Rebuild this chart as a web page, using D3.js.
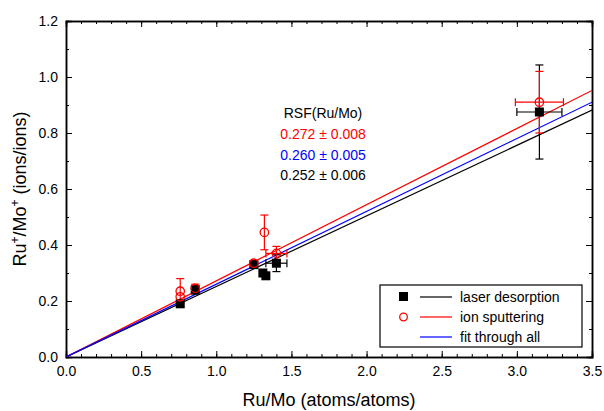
<!DOCTYPE html>
<html>
<head>
<meta charset="utf-8">
<script src="https://cdn.jsdelivr.net/npm/d3@7"></script>
<style>
  body { margin: 0; background: #fff; }
  svg text { font-family: "Liberation Sans", Arial, sans-serif; }
</style>
</head>
<body>
<div id="chart"></div>
<script>
// Laser desorption points: Ru/Mo ratio vs ion ratio, with errors
const laserX  = [0.76, 0.86, 1.25, 1.31, 1.33, 1.40, 3.15];
const laserY  = [0.19, 0.24, 0.33, 0.30, 0.29, 0.335, 0.875];
const laserEx = [0.01, 0.01, 0.01, 0, 0, 0.07, 0.15];
const laserEy = [0.01, 0.015, 0.01, 0, 0, 0.03, 0.168];

// Ion sputtering points
const ionX  = [0.76, 0.76, 0.86, 1.25, 1.32, 1.40, 3.15];
const ionY  = [0.235, 0.215, 0.245, 0.335, 0.445, 0.37, 0.91];
const ionEx = [0, 0, 0.01, 0.01, 0, 0.07, 0.16];
const ionEy = [0.045, 0, 0.015, 0.01, 0.062, 0.025, 0.11];

// Fit slopes (RSF) through origin
const fitNames  = ['laser desorption', 'ion sputtering', 'fit through all'];
const fitSlopes = [0.252, 0.272, 0.260];
const fitErrs   = [0.006, 0.008, 0.005];
const fitColors = ['#000000', '#ff0000', '#0000ff'];

const xTicks = [0, 0.5, 1.0, 1.5, 2.0, 2.5, 3.0, 3.5];
const yTicks = [0, 0.2, 0.4, 0.6, 0.8, 1.0, 1.2];

const W = 604, H = 411;
const m = { left: 66, right: 12, top: 21, bottom: 54 };

const svg = d3.select('#chart').append('svg')
    .attr('width', W).attr('height', H);

const x = d3.scaleLinear().domain([0, 3.5]).range([m.left, W - m.right]);
const y = d3.scaleLinear().domain([0, 1.2]).range([H - m.bottom, m.top]);

svg.append('clipPath').attr('id', 'clip')
  .append('rect')
    .attr('x', m.left).attr('y', m.top)
    .attr('width', W - m.left - m.right).attr('height', H - m.top - m.bottom);

// axes: major ticks labelled, minor ticks inward
function drawAxes() {
    const minorX = d3.range(0, 3.5001, 0.1);
    const minorY = d3.range(0, 1.2001, 0.1);
    const fmt = d3.format('.1f');

    svg.append('g').attr('transform', `translate(0,${y(0)})`)
        .call(d3.axisBottom(x).tickValues(minorX).tickSize(-3).tickFormat(''));
    svg.append('g').attr('transform', `translate(0,${y(0)})`)
        .call(d3.axisBottom(x).tickValues(xTicks).tickSize(-6).tickPadding(9).tickFormat(fmt));
    svg.append('g').attr('transform', `translate(0,${y(1.2)})`)
        .call(d3.axisTop(x).tickValues(minorX).tickSize(-3).tickFormat(''));
    svg.append('g').attr('transform', `translate(0,${y(1.2)})`)
        .call(d3.axisTop(x).tickValues(xTicks).tickSize(-6).tickFormat(''));

    svg.append('g').attr('transform', `translate(${x(0)},0)`)
        .call(d3.axisLeft(y).tickValues(minorY).tickSize(-3).tickFormat(''));
    svg.append('g').attr('transform', `translate(${x(0)},0)`)
        .call(d3.axisLeft(y).tickValues(yTicks).tickSize(-6).tickPadding(8).tickFormat(fmt));
    svg.append('g').attr('transform', `translate(${x(3.5)},0)`)
        .call(d3.axisRight(y).tickValues(minorY).tickSize(-3).tickFormat(''));
    svg.append('g').attr('transform', `translate(${x(3.5)},0)`)
        .call(d3.axisRight(y).tickValues(yTicks).tickSize(-6).tickFormat(''));

    svg.selectAll('.domain').attr('stroke', '#000').attr('stroke-width', 1.5);
    svg.selectAll('.tick line').attr('stroke', '#000');
    svg.selectAll('.tick text').style('font-size', '14px').attr('fill', '#000');
}
drawAxes();

const plot = svg.append('g').attr('clip-path', 'url(#clip)');

// fit lines
plot.selectAll('line.fit')
    .data(fitSlopes)
    .enter().append('line')
    .attr('class', 'fit')
    .attr('x1', x(0)).attr('y1', y(0))
    .attr('x2', x(3.5)).attr('y2', (d) => y(d * 3.5))
    .attr('stroke', (d, i) => fitColors[i])
    .attr('stroke-width', 1.2);

function errorBars(xs, ys, exs, eys, color) {
    const g = plot.append('g').attr('stroke', color).attr('stroke-width', 1.2);
    const cap = 4;
    xs.forEach((xv, i) => {
        const px = x(xv), py = y(ys[i]);
        if (eys[i] > 0) {
            const t = y(ys[i] + eys[i]), b = y(ys[i] - eys[i]);
            g.append('line').attr('x1', px).attr('x2', px).attr('y1', t).attr('y2', b);
            g.append('line').attr('x1', px - cap).attr('x2', px + cap).attr('y1', t).attr('y2', t);
            g.append('line').attr('x1', px - cap).attr('x2', px + cap).attr('y1', b).attr('y2', b);
        }
        if (exs[i] > 0) {
            const l = x(xv - exs[i]), r = x(xv + exs[i]);
            g.append('line').attr('x1', l).attr('x2', r).attr('y1', py).attr('y2', py);
            g.append('line').attr('x1', l).attr('x2', l).attr('y1', py - cap).attr('y2', py + cap);
            g.append('line').attr('x1', r).attr('x2', r).attr('y1', py - cap).attr('y2', py + cap);
        }
    });
}

errorBars(laserX, laserY, laserEx, laserEy, '#000');
errorBars(ionX, ionY, ionEx, ionEy, '#ff0000');

// laser squares
plot.selectAll('rect.laser')
    .data(laserX)
    .enter().append('rect')
    .attr('x', (d) => x(d) - 4.5)
    .attr('y', (d, i) => y(laserY[i]) - 4.5)
    .attr('width', 9).attr('height', 9)
    .attr('fill', '#000');

// ion circles
plot.selectAll('circle.ion')
    .data(ionX)
    .enter().append('circle')
    .attr('cx', (d) => x(d))
    .attr('cy', (d, i) => y(ionY[i]))
    .attr('r', 4.2)
    .attr('fill', 'none')
    .attr('stroke', '#ff0000')
    .attr('stroke-width', 1.3);

// RSF annotation
const ann = svg.append('g').attr('text-anchor', 'middle').style('font-size', '14px');
ann.append('text').attr('x', 323).attr('y', 118).text('RSF(Ru/Mo)');
[1, 2, 0].forEach((k, j) => {
    ann.append('text')
        .attr('x', 323).attr('y', 139 + j * 20.5)
        .attr('fill', fitColors[k])
        .text(`${fitSlopes[k].toFixed(3)} \u00b1 ${fitErrs[k].toFixed(3)}`);
});

// legend
const lg = svg.append('g');
lg.append('rect')
    .attr('x', 380).attr('y', 285).attr('width', 202).attr('height', 62)
    .attr('fill', '#fff').attr('stroke', '#000').attr('stroke-width', 1.2);
fitNames.forEach((name, i) => {
    const ry = 297 + i * 20;
    lg.append('line')
        .attr('x1', 420).attr('x2', 452).attr('y1', ry).attr('y2', ry)
        .attr('stroke', fitColors[i]).attr('stroke-width', 1.2);
    lg.append('text')
        .attr('x', 460).attr('y', ry + 5)
        .style('font-size', '14px')
        .text(name);
});
lg.append('rect').attr('x', 399).attr('y', 292).attr('width', 9).attr('height', 9).attr('fill', '#000');
lg.append('circle').attr('cx', 403.5).attr('cy', 317).attr('r', 3.8)
    .attr('fill', 'none').attr('stroke', '#ff0000').attr('stroke-width', 1.3);

// axis titles
svg.append('text')
    .attr('x', (m.left + W - m.right) / 2).attr('y', 406)
    .attr('text-anchor', 'middle')
    .style('font-size', '18px')
    .text('Ru/Mo (atoms/atoms)');

const yl = svg.append('text')
    .attr('transform', `translate(26,${(m.top + H - m.bottom) / 2}) rotate(-90)`)
    .attr('text-anchor', 'middle')
    .style('font-size', '18px');
yl.append('tspan').text('Ru');
yl.append('tspan').attr('baseline-shift', 'super').style('font-size', '12px').text('+');
yl.append('tspan').text('/Mo');
yl.append('tspan').attr('baseline-shift', 'super').style('font-size', '12px').text('+');
yl.append('tspan').text(' (ions/ions)');
</script>
</body>
</html>
